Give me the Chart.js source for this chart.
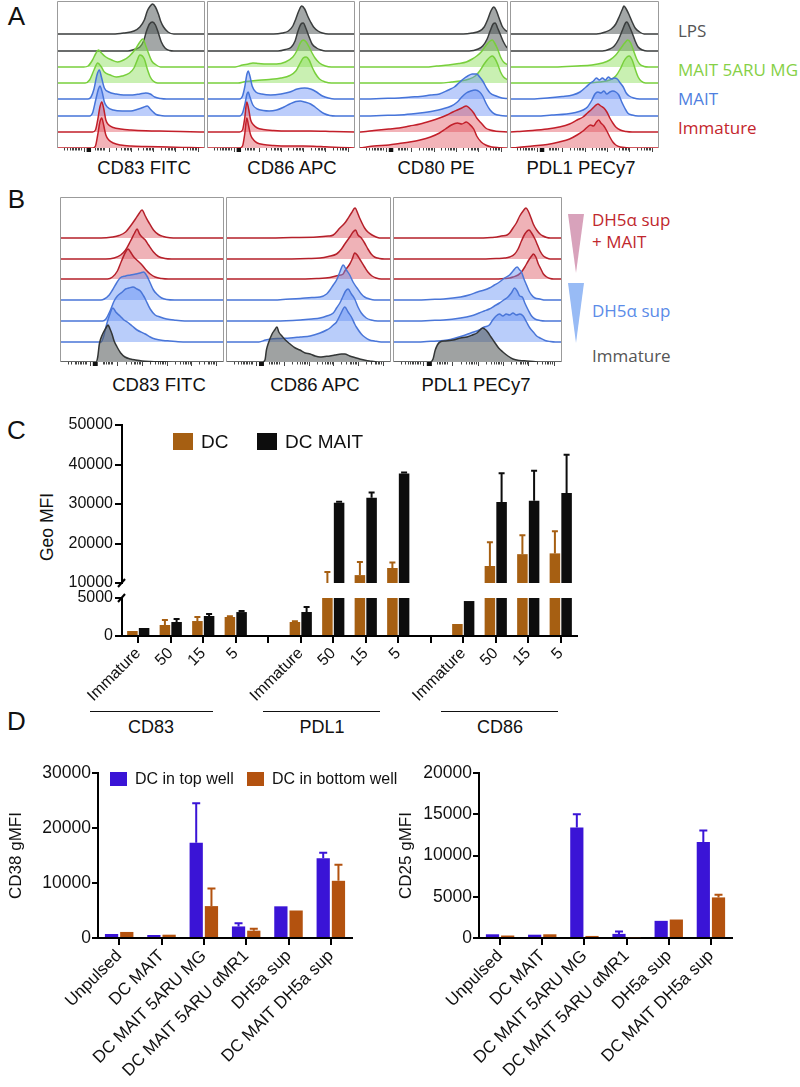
<!DOCTYPE html>
<html><head><meta charset="utf-8"><title>DC maturation figure</title>
<script src="https://cdn.jsdelivr.net/npm/chart.js@4.4.1/dist/chart.umd.min.js"></script>
<style>
html,body{margin:0;padding:0;background:#fff;}
body{width:800px;height:1087px;position:relative;overflow:hidden;font-family:"Liberation Sans",Arial,Helvetica,sans-serif;color:#111;}
canvas{position:absolute;}
.t{position:absolute;white-space:nowrap;line-height:1;}
.c{transform:translate(-50%,-50%);}
.l{transform:translate(0,-50%);}
.panel{font-size:26px;}
.ax{font-size:18.5px;}
.lgA{font-family:"Open Sans",sans-serif;font-size:17px;}
.lgB{font-family:"Open Sans",sans-serif;font-size:17px;}
.grp{font-size:18px;}
.hline{position:absolute;height:0;border-top:1.5px solid #111;}
.tri{position:absolute;width:16px;clip-path:polygon(0 0,100% 0,50% 100%);}
</style></head><body>

<div class="t c panel" style="left:16.5px;top:16px">A</div>
<div class="t c panel" style="left:16.5px;top:199px">B</div>
<div class="t c panel" style="left:16.5px;top:430px">C</div>
<div class="t c panel" style="left:16.5px;top:721px">D</div>

<div class="t c ax" style="left:144px;top:168px">CD83 FITC</div>
<div class="t c ax" style="left:292px;top:168px">CD86 APC</div>
<div class="t c ax" style="left:436px;top:168px">CD80 PE</div>
<div class="t c ax" style="left:581px;top:168px">PDL1 PECy7</div>

<div class="t l lgA" style="left:678px;top:30px;color:#555">LPS</div>
<div class="t l lgA" style="left:678px;top:69px;color:#86d046">MAIT 5ARU MG</div>
<div class="t l lgA" style="left:678px;top:98px;color:#4f7fe0">MAIT</div>
<div class="t l lgA" style="left:678px;top:127px;color:#c4262c">Immature</div>

<div class="t c ax" style="left:159px;top:385px">CD83 FITC</div>
<div class="t c ax" style="left:315px;top:385px">CD86 APC</div>
<div class="t c ax" style="left:476px;top:385px">PDL1 PECy7</div>

<div class="tri" style="left:568px;top:214px;height:59px;background:#d8a2bb"></div>
<div class="tri" style="left:568px;top:283px;height:60px;background:#98bbf5"></div>
<div class="t l lgB" style="left:592px;top:219px;color:#c0272d">DH5α sup</div>
<div class="t l lgB" style="left:592px;top:241px;color:#c0272d">+ MAIT</div>
<div class="t l lgB" style="left:592px;top:310px;color:#5b8ce8">DH5α sup</div>
<div class="t l lgB" style="left:592px;top:355px;color:#555">Immature</div>

<div class="t c" style="left:48px;top:527px;font-size:17.5px;transform:translate(-50%,-50%) rotate(-90deg)">Geo MFI</div>
<div class="hline" style="left:90px;top:711px;width:123px"></div>
<div class="hline" style="left:263px;top:711px;width:117px"></div>
<div class="hline" style="left:441px;top:711px;width:117px"></div>
<div class="t c grp" style="left:151px;top:727px">CD83</div>
<div class="t c grp" style="left:322px;top:727px">PDL1</div>
<div class="t c grp" style="left:500px;top:727px">CD86</div>

<canvas id="c1" width="560" height="195" style="left:34px;top:400px"></canvas>
<canvas id="c2" width="560" height="130" style="left:34px;top:585px"></canvas>
<canvas id="d1" width="405" height="337" style="left:0px;top:750px"></canvas>
<canvas id="d2" width="350" height="337" style="left:390px;top:750px"></canvas>

<script>
// ---------------- DATA ----------------
// Histogram traces: each trace is a list of [position (0-100 across box), height] pairs, listed top trace to bottom trace.
const A_CD83 = [
 [[0,0],[38,0],[45,1],[52,3],[56,7],[59,14],[61,23],[63,28],[64.6,30],[66.5,27],[68.5,20],[70,13],[72,7],[75,2],[79,0],[100,0]],
 [[0,0],[48,0],[53,2],[56,4],[58.5,10],[60.5,20],[62.5,27],[64.5,29],[66.5,26],[68.5,18],[70.5,9],[73,3],[76,0.5],[79,0],[100,0]],
 [[0,0],[18,0],[21,1],[24,7],[26,13],[28,17],[30,14],[33,10],[37,7],[41,5],[45,7],[49,11],[53,18],[56,25],[58,28],[60,21],[61.5,15],[64,6],[67,2],[70,0],[100,0]],
 [[0,0],[19,0],[22,3],[25,13],[27.5,20],[30,16],[32,11],[36,8],[40,6],[44,7],[49,10],[52,15],[54,22],[56,28],[59,24],[61,14],[63,6],[65,2],[68,0],[100,0]],
 [[0,0],[21,0],[23,2],[25,10],[27,24],[28.6,29],[30,22],[32,11],[35,7],[40,5],[45,4],[51,4],[56,5],[60,6],[63,5],[66,2],[70,0.5],[74,0],[100,0]],
 [[0,0],[22,0],[24,3],[26,15],[28,27],[29,30],[30.5,24],[32,14],[34,9],[38,6],[44,5],[50,5],[54,6.5],[58,8.5],[61,10],[63,7],[65,4],[67,1.5],[71,0.3],[75,0],[100,0]],
 [[0,0],[24,0],[26,2],[27.5,12],[29,25],[30.2,30],[31.5,24],[33,12],[35,7],[38,4.5],[43,3],[50,2],[60,1.2],[75,0.8],[90,0.3],[100,0]],
 [[0,0],[24,0],[26,2],[27.5,13],[29,26],[30.2,30],[31.5,23],[33,13],[35,8],[38,5],[43,3],[50,2],[60,1.5],[75,1],[90,0.4],[100,0]]
];
const A_CD86 = [
 [[0,0],[45,0],[51,1],[55,3],[58,8],[60,15],[62,23],[64,28],[66,25],[68,18],[70,12],[72,7],[75,3],[78,1],[82,0],[100,0]],
 [[0,0],[48,0],[53,1.5],[57,4],[59.5,10],[61.5,20],[63.5,27],[65,28],[67,22],[69,14],[71,7],[74,3],[77,1],[80,0],[100,0]],
 [[0,0],[19,0],[24,2],[28,3],[31,4],[35,3.5],[40,3],[47,3],[53,5],[58,10],[61,17],[63,24],[65,27],[67,25],[69,20],[71,14],[73,9],[76,4],[80,1],[84,0],[100,0]],
 [[0,0],[21,0],[26,1.5],[33,2.5],[42,3.5],[50,5],[56,7.5],[60,12],[63,20],[65,25],[67,26],[69,23],[71,16],[73,10],[76,4],[80,1],[84,0],[100,0]],
 [[0,0],[22,0],[24,3],[25.5,12],[27,25],[27.8,28],[29,23],[30.5,13],[33,7],[37,5],[43,4],[50,5],[56,7],[61,10],[66,11],[70,10],[74,7],[78,3],[82,1],[86,0],[100,0]],
 [[0,0],[22,0],[24,3],[25.5,11],[27,22],[27.8,24],[29,19],[31,11],[34,7],[38,5.5],[42,5],[47,6],[52,9],[56,12],[60,14.5],[63,15],[66,14],[70,12],[73,9],[76,5.5],[79,2.5],[83,0.5],[87,0],[100,0]],
 [[0,0],[22,0],[24,2],[25.5,14],[26.9,30],[28,24],[29.5,12],[31.5,7],[34,4],[38,2.5],[45,1.5],[55,1],[70,1],[85,0.5],[100,0]],
 [[0,0],[22,0],[24,2],[25.5,14],[26.9,30],[28,23],[29.5,13],[31.5,8],[34,5],[38,3.5],[45,2.5],[55,2],[65,2],[72,1.8],[80,1.2],[90,0.5],[100,0]]
];
const A_CD80 = [
 [[0,0],[70,0],[76,1],[81,3],[84,7],[86.5,15],[88.5,23],[90.5,27],[92,24],[94,16],[96,8],[98,4],[100,2]],
 [[0,0],[74,0],[80,2],[83,5],[86,12],[88,20],[90,27],[91.5,28],[93,23],[95,16],[97,9],[99,4],[100,3]],
 [[0,0],[45,0],[52,1],[60,2],[67,3.5],[72,5],[76,8],[79,11],[82,15],[84,19],[86,23],[88,26],[89.5,27],[91,24],[93,18],[95,10],[97,5],[100,2]],
 [[0,0],[55,0],[62,1],[68,2],[74,4],[78,7],[81,12],[84,19],[86,23],[88,26],[89.5,27],[91,25],[93,19],[95,11],[97,6],[100,3]],
 [[0,0],[5,0],[15,0.5],[27,1],[35,2],[41,2.5],[48,4],[54,5],[60,9],[64,12],[67,16],[70,20],[73,23],[76,25],[79,25],[81,22],[83,18],[86,10],[88,6],[92,3],[96,1],[100,0.5]],
 [[0,0],[5,0],[15,0.5],[27,1],[35,2],[41,3],[50,5],[56,7],[62,10],[66,14],[69,19],[72,23],[75,25],[78,26],[81,24],[83,20],[85.5,12],[88,6],[91,2],[95,0.5],[100,0]],
 [[0,0],[3,0.3],[10,1.5],[20,3],[27,4],[34,6],[41,8],[48,11],[54,14],[59,17],[63,20],[66,22],[69,24],[72,26],[74,24],[77,19],[79,14],[82,9],[85,4],[88,2],[92,0.8],[100,0]],
 [[0,0],[3,0.5],[10,2],[20,3],[27,4.5],[34,6],[41,8],[48,11],[54,15],[58,19],[62,23],[66,25],[69,24],[72,26],[74,24],[77,19],[79,12],[82,6],[85,3],[89,1],[94,0.3],[100,0]]
];
const A_PDL1 = [
 [[0,0],[58,0],[64,2],[68,5],[71,10],[73.5,18],[75.5,25],[76.5,28],[78,25],[80,19],[82,12],[84,6],[87,2],[90,0],[100,0]],
 [[0,0],[62,0],[67,2],[70,5],[73,12],[75.5,21],[77.5,28],[78.5,29],[80,25],[82,18],[84,10],[86,4],[89,1],[92,0],[100,0]],
 [[0,0],[30,0],[45,1],[55,2],[62,4],[67,7],[71,12],[74,18],[77,24],[79,27],[81,24],[83,16],[85,8],[87,3],[90,0.5],[93,0],[100,0]],
 [[0,0],[50,0],[60,1],[67,3],[71,7],[74,14],[76.5,22],[78.5,26],[80,27],[82,23],[84,14],[86,6],[88,2],[91,0],[100,0]],
 [[0,0],[15,0],[25,1],[35,2.5],[42,4],[47,7],[51,12],[54,16],[56,18],[58,21],[60,19],[62,21],[64,19],[66,22],[68,20],[70,21],[72,20],[74,16],[76,12],[78,6],[80,3],[83,1],[87,0],[100,0]],
 [[0,0],[18,0],[28,1],[38,2],[44,3.5],[49,6],[52,9],[55,16],[57,22],[59,24],[61,23],[63,25],[65,22],[67,24],[69,25],[71,24],[73,21],[75,14],[77,8],[79,3],[82,1],[86,0],[100,0]],
 [[0,0],[5,0.5],[15,1.5],[25,3],[33,5],[40,8],[45,12],[49,15],[52,19],[55,23],[57,26],[59,28],[61,26],[63,24],[65,20],[67,14],[69,9],[71,5],[74,2],[78,0.5],[82,0],[100,0]],
 [[0,0],[5,0.5],[15,2],[25,3.5],[33,6],[40,9],[45,13],[49,17],[52,21],[54,23],[56,22],[58,26],[59.5,28],[61,25],[63,22],[65,17],[67,11],[69,6],[71,3],[74,1],[78,0.3],[82,0],[100,0]]
];
const B_CD83 = [
 [[0,0],[25,0],[32,1],[36,2.5],[40,6],[43,12],[46,19],[48,24],[50,28],[52,22],[54,16],[57,8],[60,3.5],[63,1.5],[67,0.3],[72,0],[100,0]],
 [[0,0],[28,0],[33,1],[37,4],[40,9],[43,18],[45.5,26],[47,30],[48.5,25],[50,22],[52,19],[54,14],[57,7],[60,2.5],[64,0.5],[68,0],[100,0]],
 [[0,0],[29,0],[32,2],[35,8],[37.5,18],[40,27],[41.5,30],[43,27],[45,22],[47.5,18],[50,14],[52.5,9],[55,5],[58,2],[62,0.5],[66,0],[100,0]],
 [[0,0],[25,0],[27,1],[30,5],[32,10],[34.5,17],[36.6,22],[40,24],[43,25],[46,26],[49,27],[51,28],[53,24],[55,17],[57,10],[59,6],[62,2],[65,0.5],[70,0],[100,0]],
 [[0,0],[26,0],[28,2],[30.5,10],[33,20],[35,25],[38,29],[40,32],[42,33],[44.5,34],[47,32],[49,30],[51,25],[52,22],[55,12],[58,6],[61,4],[65,2],[70,0.8],[76,0],[100,0]],
 [[0,0],[25,0],[26.5,5],[28,15],[30,26],[32.3,34],[34,30],[36.6,26],[39,22],[41,20],[44,16],[47,12],[52,8],[55,5],[58,3],[63,1.5],[67,1],[72,0.3],[78,0],[100,0]],
 [[0,0],[22,0],[23,5],[24,18],[26,28],[28,34],[29.3,37],[30.5,33],[31.7,28],[33,21],[34.8,15],[37,9],[39.6,5],[43,3],[46,2],[50,1],[55,0.5],[62,0.2],[70,0],[100,0]]
];
const B_CD86 = [
 [[0,0],[20,0],[40,0.5],[55,1],[62,2],[65,3],[69,10],[72,15],[73.3,18],[76,25],[78.2,30],[80,24],[81,20],[84,10],[86,6],[88.5,3],[91,1],[93,0],[100,0]],
 [[0,0],[30,0],[50,0.5],[57,1],[62,2.5],[67,5],[70,10],[72,15],[75,22],[77,27],[78.5,29],[80,24],[82,21],[84,16],[86,10],[88,5],[90,2],[93,0.5],[96,0],[100,0]],
 [[0,0],[40,0],[55,0.5],[63,1.5],[68,3.5],[71,5],[72,8],[75,15],[76.5,20],[78,26],[79.5,24],[81,20],[84,12],[86,7],[88.5,3],[91,1],[94,0],[100,0]],
 [[0,0],[30,0],[34.5,0.5],[45,1.5],[52,2.5],[57,3],[61,6],[63,10],[65,15],[67,20],[69,28],[71,35],[73,30],[75,25],[77,18],[79.4,12],[82,6],[84,3],[87,1],[90,0],[100,0]],
 [[0,0],[30,0],[45,1],[52,2],[57,3],[61,5],[65,8],[67,13],[69,18],[71,25],[72.5,30],[74,32],[76,27],[78,22],[80,14],[82,8],[85,3],[88,1],[92,0],[100,0]],
 [[0,0],[20,0],[24,2],[27,3],[33,3.5],[38.8,4],[45,5],[51,6],[57,9],[61,12],[63,14],[65,17],[67,20],[69.5,28],[72,35],[74,30],[76,25],[78,18],[79,15],[82,8],[84,5],[87,2],[90,1],[94,0],[100,0]],
 [[0,0],[22,0],[23.6,2],[24.5,12],[25.5,18],[27.9,28],[29.5,32],[30.9,35],[32,30],[33.9,26],[36,22],[38.8,18],[42,14],[44.8,12],[48,9],[51,8],[54,6],[57,5],[60,5.5],[63,6],[66,7],[70,8],[72,8],[75,6],[78,4.5],[81,3],[85,1.5],[87,1],[92,0],[100,0]]
];
const B_PDL1 = [
 [[0,0],[50,0],[58,0.5],[61.5,1],[64,2],[67.5,3],[69,5],[71,10],[73,15],[75,22],[77,27],[78.7,30],[80,27],[81.7,20],[83,14],[85,8],[87,4],[88.8,2],[91,0.5],[93,0],[100,0]],
 [[0,0],[55,0],[62,0.5],[66,1],[69,2],[72,5],[74,10],[76,18],[78,25],[80.5,29],[82,26],[84,20],[85.5,14],[87,8],[89,3],[91,1],[93,0],[100,0]],
 [[0,0],[60,0],[66,0.5],[69,1],[71,2],[74,4],[76,7],[78,12],[80,18],[82,23],[83,25],[84.5,22],[86,15],[87.5,10],[89,5],[91,2],[93,0.5],[95,0],[100,0]],
 [[0,0],[15,0],[22,0.5],[30,1],[40,3],[45,5],[50,8],[54,10],[57,12],[60,15],[63,18],[66,22],[69,25],[71,29],[73.4,33],[75,30],[76,28],[77.5,21],[79,15],[80.5,9],[82,5],[84,2],[87,1],[90,0],[100,0]],
 [[0,0],[15,0],[22,0.5],[30,1],[40,3],[46,5],[51,8],[54,10],[57,12],[60,15],[63,18],[65.5,21],[68,24],[70,28],[72,33],[73.5,30],[75,25],[76.5,24],[78,18],[80,11],[82,5],[84,2],[87,0.5],[90,0],[100,0]],
 [[0,0],[15,0],[20,0.5],[26,1],[32,2],[37,4],[41,6],[46,9],[51,12],[54,15],[57,17],[59,22],[61,26],[63,28],[65,26],[67,28],[69,27],[71,29],[73,27],[75,28],[77,26],[79,20],[81,14],[83,10],[85,6],[87,4],[90,1.5],[93,0.5],[96,0],[100,0]],
 [[0,0],[22,0],[23.7,3],[25,12],[27.8,20],[31,21],[35.5,22],[40,24],[43.8,25],[47,27],[49.7,29],[51.5,32],[53,34],[55,32],[56,30],[58,25],[60,20],[62.5,14],[65,10],[68,6],[71,3],[75,1.5],[79,1],[83,0.5],[87,0],[100,0]]
];
// Flow axis tick positions (0-100 across box)
const HIST_MINOR = [5,7,9,10,11,12,13,14,15,16,26,27,28,29,30,31,32,40,43,45,46,47,48,49,55,58,60,61,62,63,64,70,73,75,76,77,78,79,85,88,90,91,92,93,94];
const HIST_MAJOR = [18,35,50,65,80,95];

// Panel C
const C_CATS = ['Immature','50','15','5','','Immature','50','15','5','','Immature','50','15','5'];
const C_DC = [660,1450,1970,2500,null,1840,9500,12000,13800,null,1580,14300,17300,17500];
const C_DC_ERR = [0,650,530,100,null,100,3300,3300,1400,null,0,6000,4800,5600];
const C_DCMAIT = [1050,1840,2630,3150,null,3160,30300,31600,37700,null,4600,30500,30800,32800];
const C_DCMAIT_ERR = [0,400,270,150,null,640,300,1300,300,null,0,7300,7600,9700];

// Panel D
const D_CATS = ['Unpulsed','DC MAIT','DC MAIT 5ARU MG','DC MAIT 5ARU αMR1','DH5a sup','DC MAIT DH5a sup'];
const D38_TOP = [730,550,17300,2100,5760,14500];
const D38_TOP_ERR = [0,0,7200,600,0,1000];
const D38_BOT = [1100,600,5800,1330,5000,10400];
const D38_BOT_ERR = [0,0,3200,370,0,2900];
const D25_TOP = [450,400,13400,500,2080,11640];
const D25_TOP_ERR = [0,0,1600,300,0,1400];
const D25_BOT = [300,450,250,100,2240,4920];
const D25_BOT_ERR = [0,0,0,0,0,320];

// ---------------- LAYOUT / STYLE ----------------
Chart.defaults.font.family = '"Liberation Sans", Arial, Helvetica, sans-serif';
Chart.defaults.color = '#111';

const STY_A = {
  grey: {line:'#3a3d3d', fill:'rgba(72,80,80,0.5)'},
  green:{line:'#78cf3c', fill:'rgba(135,222,85,0.45)'},
  blue: {line:'#4674d9', fill:'rgba(95,135,245,0.42)'},
  red:  {line:'#c21f2a', fill:'rgba(225,75,85,0.42)'}
};
const STY_B = {
  grey: {line:'#333636', fill:'rgba(80,86,86,0.55)'},
  blue: {line:'#4a76d8', fill:'rgba(100,145,245,0.45)'},
  red:  {line:'#b5202a', fill:'rgba(222,95,105,0.48)'}
};

const boxFrame = {
  id: 'boxFrame',
  afterDraw(chart) {
    const {ctx, chartArea: a} = chart;
    ctx.save();
    ctx.strokeStyle = '#9b9b9b'; ctx.lineWidth = 1;
    ctx.beginPath();
    ctx.moveTo(a.left + 0.5, a.bottom); ctx.lineTo(a.left + 0.5, a.top + 0.5);
    ctx.lineTo(a.right - 0.5, a.top + 0.5); ctx.lineTo(a.right - 0.5, a.bottom);
    ctx.stroke();
    ctx.strokeStyle = '#444'; ctx.lineWidth = 1;
    const W = a.right - a.left;
    ctx.beginPath();
    HIST_MINOR.forEach(f => { const x = Math.round(a.left + f / 100 * W) + 0.5; ctx.moveTo(x, a.bottom); ctx.lineTo(x, a.bottom + 2.5); });
    HIST_MAJOR.forEach(f => { const x = Math.round(a.left + f / 100 * W) + 0.5; ctx.moveTo(x, a.bottom); ctx.lineTo(x, a.bottom + 4); });
    ctx.stroke();
    ctx.fillStyle = '#111';
    ctx.fillRect(a.left + 0.2 * W, a.bottom, 0.03 * W, 4);
    ctx.restore();
  }
};

function makeHist(x0, x1, top, bottom, bases, traces, colors, sty) {
  const c = document.createElement('canvas');
  const W = x1 - x0, H = bottom - top;
  c.width = W + 2; c.height = H + 8;
  c.style.left = (x0 - 1) + 'px'; c.style.top = (top - 1) + 'px';
  document.body.appendChild(c);
  const n = traces.length;
  const datasets = traces.map((tr, i) => {
    const b = bottom - bases[i];
    return {
      data: tr.map(p => ({x: p[0], y: b + p[1]})),
      fill: {value: b},
      borderColor: sty[colors[i]].line,
      backgroundColor: sty[colors[i]].fill,
      borderWidth: 1.5, pointRadius: 0, cubicInterpolationMode: 'monotone',
      order: n - 1 - i
    };
  });
  new Chart(c, {
    type: 'line',
    data: {datasets},
    options: {
      responsive: false, animation: false, events: [],
      layout: {padding: {left: 1, right: 1, top: 1, bottom: 7}},
      plugins: {legend: {display: false}, tooltip: {enabled: false}},
      scales: {
        x: {type: 'linear', min: 0, max: 100, display: false},
        y: {type: 'linear', min: 0, max: H, display: false}
      }
    },
    plugins: [boxFrame]
  });
}

const A_BOXES = [[57,205],[207,355],[359,508],[510,659]];
const A_BASE = [34,51,67,83,99,116,132,148];
const A_COL = ['grey','grey','green','green','blue','blue','red','red'];
[A_CD83, A_CD86, A_CD80, A_PDL1].forEach((tr, k) => makeHist(A_BOXES[k][0], A_BOXES[k][1], 1, 148, A_BASE, tr, A_COL, STY_A));

const B_BOXES = [[60,224],[226,391],[393,562]];
const B_BASE = [238,259,279,300,321,342,362];
const B_COL = ['red','red','red','blue','blue','blue','grey'];
[B_CD83, B_CD86, B_PDL1].forEach((tr, k) => makeHist(B_BOXES[k][0], B_BOXES[k][1], 197, 362, B_BASE, tr, B_COL, STY_B));

// ---------------- bar helpers ----------------
const errorBars = {
  id: 'errorBars',
  afterDatasetsDraw(chart, args, opts) {
    const {ctx, chartArea: a} = chart;
    ctx.save();
    ctx.beginPath(); ctx.rect(a.left, a.top - 2, a.right - a.left, a.bottom - a.top + 2); ctx.clip();
    chart.data.datasets.forEach((ds, di) => {
      if (!ds.errors) return;
      const meta = chart.getDatasetMeta(di);
      const ys = chart.scales[meta.yAxisID];
      meta.data.forEach((bar, i) => {
        const v = ds.data[i], e = ds.errors[i];
        if (v == null || !e) return;
        const y0 = ys.getPixelForValue(v), y1 = ys.getPixelForValue(v + e);
        ctx.strokeStyle = ds.errorColor; ctx.lineWidth = 2;
        ctx.beginPath();
        ctx.moveTo(bar.x, y0); ctx.lineTo(bar.x, y1);
        ctx.moveTo(bar.x - opts.cap, y1); ctx.lineTo(bar.x + opts.cap, y1);
        ctx.stroke();
      });
    });
    ctx.restore();
  }
};
const inLegend = {
  id: 'inLegend',
  afterDraw(chart, args, opts) {
    if (!opts.items) return;
    const ctx = chart.ctx;
    ctx.save();
    opts.items.forEach((it, k) => {
      const ds = chart.data.datasets[k];
      ctx.fillStyle = ds.backgroundColor;
      ctx.fillRect(it[0], it[1], opts.box[0], opts.box[1]);
      ctx.fillStyle = '#111'; ctx.font = opts.font; ctx.textBaseline = 'middle'; ctx.textAlign = 'left';
      ctx.fillText(ds.label, it[0] + opts.box[0] + opts.gap, it[1] + opts.box[1] / 2 + 1);
    });
    ctx.restore();
  }
};
const axisBreak = {
  id: 'axisBreak',
  afterDraw(chart, args, opts) {
    if (!opts.at) return;
    const {ctx, chartArea: a} = chart;
    const y = opts.at === 'bottom' ? a.bottom : a.top;
    ctx.save();
    ctx.strokeStyle = '#000'; ctx.lineWidth = 2;
    ctx.beginPath(); ctx.moveTo(a.left - 4, y + 4); ctx.lineTo(a.left + 3, y - 4); ctx.stroke();
    ctx.restore();
  }
};

const BROWN = '#a65f12', BLACK = '#0d0d0d', BLUE = '#3a14d6', ORANGE = '#b3520f';
const axisGrid = {drawOnChartArea: false, tickLength: 7, color: '#000', lineWidth: 2, offset: false};
const axisBorder = {color: '#000', width: 2};
const plain = v => String(v);

function cDatasets() {
  return [
    {label: 'DC', data: C_DC, errors: C_DC_ERR, backgroundColor: BROWN, errorColor: BROWN},
    {label: 'DC MAIT', data: C_DCMAIT, errors: C_DCMAIT_ERR, backgroundColor: BLACK, errorColor: BLACK}
  ];
}

// Panel C upper (broken axis top part)
new Chart(document.getElementById('c1'), {
  type: 'bar',
  data: {labels: C_CATS, datasets: cDatasets()},
  options: {
    responsive: false, animation: false, events: [],
    layout: {padding: {top: 25, bottom: 12, left: 0, right: 17}},
    datasets: {bar: {categoryPercentage: 0.72, barPercentage: 0.9, clip: 0}},
    plugins: {legend: {display: false}, tooltip: {enabled: false},
      errorBars: {cap: 3},
      inLegend: {items: [[139, 33], [223, 33]], box: [20, 17], gap: 8, font: '19px "Liberation Sans", Arial'},
      axisBreak: {at: 'bottom'}},
    scales: {
      x: {display: false, offset: true},
      y: {min: 10000, max: 50000, ticks: {stepSize: 10000, padding: 2, font: {size: 16}, callback: plain},
          grid: axisGrid, border: axisBorder, afterFit(s) { s.width = 88; }}
    }
  },
  plugins: [errorBars, inLegend, axisBreak]
});

// Panel C lower
new Chart(document.getElementById('c2'), {
  type: 'bar',
  data: {labels: C_CATS, datasets: cDatasets()},
  options: {
    responsive: false, animation: false, events: [],
    layout: {padding: {top: 13, bottom: 2, left: 0, right: 17}},
    datasets: {bar: {categoryPercentage: 0.72, barPercentage: 0.9, clip: 0}},
    plugins: {legend: {display: false}, tooltip: {enabled: false}, errorBars: {cap: 3}, axisBreak: {at: 'top'}},
    scales: {
      x: {offset: true, grid: axisGrid, border: axisBorder,
          ticks: {minRotation: 45, maxRotation: 45, autoSkip: false, padding: 1, font: {size: 16}},
          afterFit(s) { s.height = 77; }},
      y: {min: 0, max: 5000, ticks: {stepSize: 2500, padding: 2, font: {size: 16}, callback: plain},
          grid: axisGrid, border: axisBorder, afterFit(s) { s.width = 88; }}
    }
  },
  plugins: [errorBars, axisBreak]
});

function dChart(id, top, topErr, bot, botErr, yMax, yStep, title, padL, padR, yW, legendItems) {
  new Chart(document.getElementById(id), {
    type: 'bar',
    data: {labels: D_CATS, datasets: [
      {label: 'DC in top well', data: top, errors: topErr, backgroundColor: BLUE, errorColor: BLUE},
      {label: 'DC in bottom well', data: bot, errors: botErr, backgroundColor: ORANGE, errorColor: ORANGE}
    ]},
    options: {
      responsive: false, animation: false, events: [],
      layout: {padding: {top: 23, left: padL, right: padR, bottom: 4}},
      datasets: {bar: {categoryPercentage: 0.72, barPercentage: 0.87, clip: 0}},
      plugins: {legend: {display: false}, tooltip: {enabled: false}, errorBars: {cap: 4},
        inLegend: legendItems ? {items: legendItems, box: [17, 14], gap: 8, font: '16px "Liberation Sans", Arial'} : {}},
      scales: {
        x: {offset: true, grid: axisGrid, border: axisBorder,
            ticks: {minRotation: 45, maxRotation: 45, autoSkip: false, padding: 1, font: {size: 17}},
            afterFit(s) { s.height = 145; }},
        y: {min: 0, max: yMax, ticks: {stepSize: yStep, padding: 1, font: {size: 17.5}, callback: plain},
            grid: Object.assign({}, axisGrid, {tickLength: 6}), border: axisBorder,
            title: {display: true, text: title, font: {size: 17}, padding: {top: 2, bottom: 2}},
            afterFit(s) { s.width = yW; }}
      }
    },
    plugins: [errorBars, inLegend]
  });
}
dChart('d1', D38_TOP, D38_TOP_ERR, D38_BOT, D38_BOT_ERR, 30000, 10000, 'CD38 gMFI', 4, 53, 94, [[110, 22], [247, 22]]);
dChart('d2', D25_TOP, D25_TOP_ERR, D25_BOT, D25_BOT_ERR, 20000, 5000, 'CD25 gMFI', 4, 8, 85, null);
</script>
</body></html>
